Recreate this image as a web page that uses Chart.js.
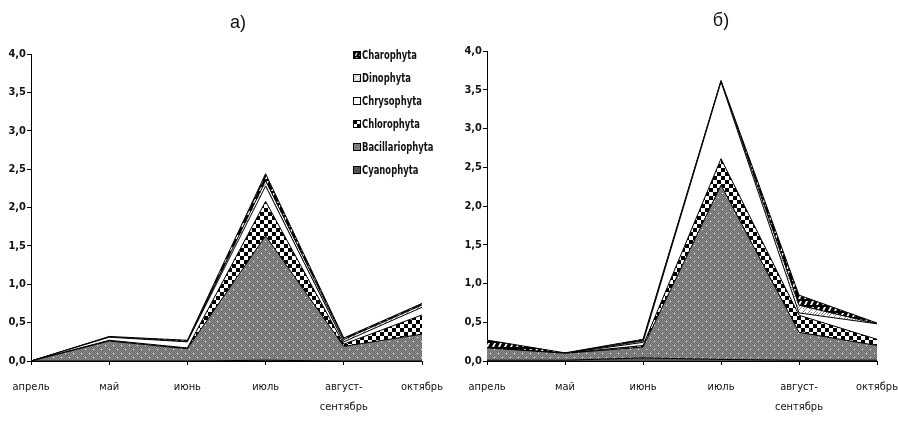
<!DOCTYPE html>
<html>
<head>
<meta charset="utf-8">
<script src="https://cdn.jsdelivr.net/npm/chart.js@4.4.0/dist/chart.umd.min.js"></script>
<style>
    body { margin: 0; background: #fff; }
    #wrap { position: relative; width: 898px; height: 421px; overflow: hidden; }
    canvas.plot { position: absolute; top: 0; }
    .ttl { position: absolute; font: 18px "Liberation Sans", Arial, sans-serif; color: #111; transform: translateX(-50%); }
    #legend { position: absolute; left: 353px; top: 43px; font: bold 13px "DejaVu Sans Condensed", sans-serif; color: #111; }
    #legend div { height: 23px; display: flex; align-items: center; white-space: nowrap; }
    #legend span { display: inline-block; transform: scaleX(0.72); transform-origin: left center; }
    #legend canvas { width: 8px; height: 8px; border: 1px solid #000; margin-right: 1px; box-sizing: border-box; }
</style>
</head>
<body>
<div id="wrap">
    <canvas id="chart-a" class="plot" width="449" height="421" style="left:0"></canvas>
    <canvas id="chart-b" class="plot" width="449" height="421" style="left:449px"></canvas>
    <div class="ttl" style="left:238px; top:12px">а)</div>
    <div class="ttl" style="left:721px; top:10px">б)</div>
    <div id="legend"></div>
</div>
<script>
// Месяцы
var months = ["апрель", "май", "июнь", "июль", ["август-", "сентябрь"], "октябрь"];
var groups = ["Cyanophyta", "Bacillariophyta", "Chlorophyta", "Chrysophyta", "Dinophyta", "Charophyta"];
var yTicks = [0, 0.5, 1, 1.5, 2, 2.5, 3, 3.5, 4];

// а) биомасса по отделам (слои, снизу вверх)
var cyanoA = [0, 0, 0, 0.01, 0, 0];
var bacilA = [0, 0.26, 0.16, 1.62, 0.19, 0.35];
var chloroA = [0, 0.01, 0.01, 0.45, 0.03, 0.25];
var chrysoA = [0, 0.04, 0.08, 0.2, 0.03, 0.1];
var dinoA = [0, 0, 0, 0.07, 0.03, 0.03];
var charoA = [0, 0.01, 0.02, 0.09, 0.02, 0.02];

// б)
var cyanoB = [0.01, 0.01, 0.04, 0.02, 0.01, 0.01];
var bacilB = [0.16, 0.09, 0.14, 2.25, 0.36, 0.19];
var chloroB = [0, 0, 0.02, 0.34, 0.22, 0.08];
var chrysoB = [0, 0, 0.04, 0.99, 0.03, 0.2];
var dinoB = [0, 0, 0.02, 0.01, 0.1, 0];
var charoB = [0.1, 0.005, 0.02, 0.01, 0.13, 0.01];

// Patterns
function makePattern(size, draw) {
    var c = document.createElement("canvas");
    c.width = size;
    c.height = size;
    var g = c.getContext("2d");
    draw(g, size);
    return g.createPattern(c, "repeat");
}

var fills = {
    Cyanophyta: "#555555",
    Bacillariophyta: makePattern(8, function (g) {
        g.fillStyle = "#8c8c8c";
        g.fillRect(0, 0, 8, 8);
        g.fillStyle = "#6a6a6a";
        for (var i = 0; i < 8; i++) {
            for (var j = 0; j < 8; j++) {
                if ((i + j) % 2 === 0) g.fillRect(i, j, 1, 1);
            }
        }
        g.fillStyle = "#f4f4f4";
        g.fillRect(1, 1, 1, 1);
        g.fillRect(5, 5, 1, 1);
    }),
    Chlorophyta: makePattern(8, function (g) {
        g.fillStyle = "#fff";
        g.fillRect(0, 0, 8, 8);
        g.fillStyle = "#000";
        g.fillRect(0, 0, 4, 4);
        g.fillRect(4, 4, 4, 4);
    }),
    Chrysophyta: "#ffffff",
    Dinophyta: makePattern(6, function (g) {
        g.fillStyle = "#fff";
        g.fillRect(0, 0, 6, 6);
        g.strokeStyle = "#888";
        g.lineWidth = 1;
        g.beginPath();
        g.moveTo(0, 6);
        g.lineTo(6, 0);
        g.moveTo(0, 3);
        g.lineTo(3, 0);
        g.stroke();
    }),
    Charophyta: makePattern(6, function (g) {
        g.fillStyle = "#000";
        g.fillRect(0, 0, 6, 6);
        g.fillStyle = "#fff";
        g.beginPath();
        g.moveTo(1, 5);
        g.lineTo(3, 5);
        g.lineTo(5, 1);
        g.lineTo(3, 1);
        g.closePath();
        g.fill();
    }),
};

function buildDatasets(series) {
    return series.map(function (vals, i) {
        return {
            label: groups[i],
            data: vals,
            fill: i === 0 ? "origin" : "-1",
            backgroundColor: fills[groups[i]],
            borderColor: "#000",
            borderWidth: 1,
            pointRadius: 0,
            tension: 0,
        };
    });
}

var tickFont = { family: "'DejaVu Sans Condensed', sans-serif", size: 11, weight: "bold" };
var catFont = { family: "'DejaVu Sans Condensed', sans-serif", size: 11, lineHeight: 1.8 };

function makeChart(id, series, yWidth, pad) {
    var ctx = document.getElementById(id).getContext("2d");
    return new Chart(ctx, {
        type: "line",
        data: { labels: months, datasets: buildDatasets(series) },
        options: {
            responsive: false,
            animation: false,
            layout: { padding: pad },
            scales: {
                x: {
                    offset: false,
                    grid: { display: true, drawOnChartArea: false, drawTicks: true, tickLength: 4, color: "#000" },
                    border: { display: true, color: "#000", width: 1 },
                    ticks: { color: "#111", font: catFont, maxRotation: 0, autoSkip: false, padding: 12 },
                    afterFit: function (s) {
                        s.height = 60;
                        s.paddingLeft = 0;
                        s.paddingRight = 0;
                    },
                },
                y: {
                    stacked: true,
                    min: 0,
                    max: 4,
                    afterBuildTicks: function (s) {
                        s.ticks = yTicks.map(function (v) { return { value: v }; });
                    },
                    grid: { display: true, drawOnChartArea: false, drawTicks: true, tickLength: 4, color: "#000" },
                    border: { display: true, color: "#000", width: 1 },
                    ticks: {
                        color: "#111",
                        font: tickFont,
                        padding: 1,
                        callback: function (v) { return v.toFixed(1).replace(".", ","); },
                    },
                    afterFit: function (s) {
                        s.width = yWidth;
                        s.paddingTop = 0;
                        s.paddingBottom = 0;
                    },
                },
            },
            plugins: {
                legend: { display: false },
                tooltip: { enabled: false },
            },
        },
    });
}

makeChart("chart-a", [cyanoA, bacilA, chloroA, chrysoA, dinoA, charoA], 31, { left: 0, right: 27, top: 54, bottom: 0 });
makeChart("chart-b", [cyanoB, bacilB, chloroB, chrysoB, dinoB, charoB], 38, { left: 0, right: 21, top: 51, bottom: 0 });

// Legend (top series first)
var legend = document.getElementById("legend");
groups.slice().reverse().forEach(function (name) {
    var row = document.createElement("div");
    var sw = document.createElement("canvas");
    sw.width = 8;
    sw.height = 8;
    var g = sw.getContext("2d");
    g.fillStyle = fills[name];
    g.fillRect(0, 0, 8, 8);
    var txt = document.createElement("span");
    txt.textContent = name;
    row.appendChild(sw);
    row.appendChild(txt);
    legend.appendChild(row);
});
</script>
</body>
</html>
